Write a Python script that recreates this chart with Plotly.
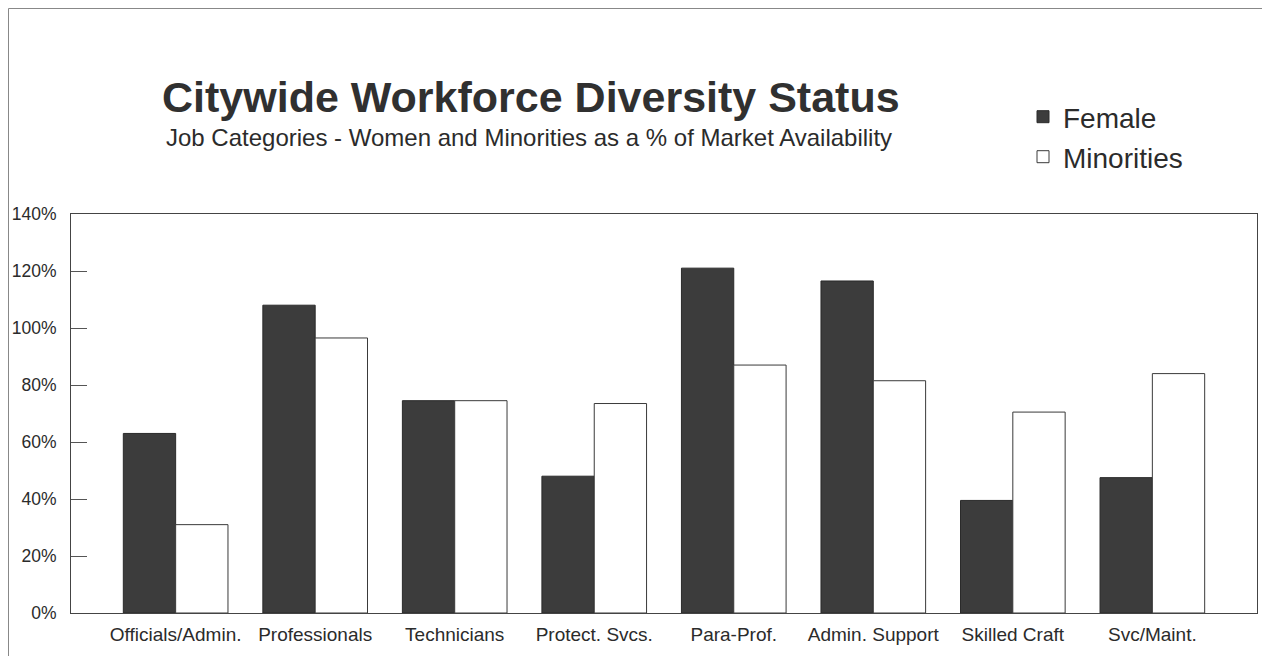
import plotly.graph_objects as go

categories = ["Officials/Admin.", "Professionals", "Technicians", "Protect. Svcs.",
              "Para-Prof.", "Admin. Support", "Skilled Craft", "Svc/Maint."]
female = [63, 108, 74.5, 48, 121, 116.5, 39.5, 47.5]
minorities = [31, 96.5, 74.5, 73.5, 87, 81.5, 70.5, 84]
y_ticks = [0, 20, 40, 60, 80, 100, 120, 140]
y_labels = ["0%", "20%", "40%", "60%", "80%", "100%", "120%", "140%"]

FONT = "Liberation Sans, Arial, sans-serif"
TXT = "#2b2b2b"

# page has an 8px body margin; work in page coordinates and convert
OFF = 8
W, H = 1254, 648
plot_left, plot_right, plot_top, plot_bottom = 71, 1257, 214, 613
L = plot_left - OFF
R = W - (plot_right - OFF)
T = plot_top - OFF
B = H - (plot_bottom - OFF)
pw = W - L - R
ph = H - T - B


def px(xpage):
    return (xpage - OFF - L) / pw


def py(ypage):
    return (H - B - (ypage - OFF)) / ph


fig = go.Figure()
fig.add_trace(go.Bar(
    x=categories, y=female, name="Female",
    marker=dict(color="#3c3c3c", line=dict(color="#2a2a2a", width=1)),
    legend="legend",
))
fig.add_trace(go.Bar(
    x=categories, y=minorities, name="Minorities",
    marker=dict(color="#ffffff", line=dict(color="#3a3a3a", width=1)),
    legend="legend2",
))

fig.update_layout(
    width=W, height=H,
    margin=dict(l=L, r=R, t=T, b=B, autoexpand=False),
    paper_bgcolor="white", plot_bgcolor="white",
    barmode="group", bargap=0.25, bargroupgap=0,
    showlegend=True,
    font=dict(family=FONT, color=TXT),
    legend=dict(x=px(1023), y=py(117), xanchor="left", yanchor="middle",
                font=dict(size=28, color=TXT, family=FONT), bgcolor="rgba(0,0,0,0)"),
    legend2=dict(x=px(1023), y=py(157), xanchor="left", yanchor="middle",
                 font=dict(size=28, color=TXT, family=FONT), bgcolor="rgba(0,0,0,0)"),
    xaxis=dict(
        range=[-0.75, 7.75], showgrid=False, showline=True, linecolor="#444",
        linewidth=1, mirror=True, ticks="", tickfont=dict(size=19, color=TXT),
        ticklabelstandoff=4,
    ),
    yaxis=dict(
        range=[0, 140], tickvals=y_ticks, ticktext=y_labels, showgrid=False,
        showline=True, linecolor="#444", linewidth=1, mirror=True,
        ticks="inside", ticklen=16, tickcolor="#555", tickwidth=1,
        tickfont=dict(size=17.5, color=TXT), zeroline=False, ticklabelstandoff=10,
    ),
    annotations=[
        dict(text="<b>Citywide Workforce Diversity Status</b>", x=px(531), y=py(97),
             xref="paper", yref="paper", showarrow=False, xanchor="center", yanchor="middle",
             font=dict(size=43, color="#303030", family=FONT)),
        dict(text="Job Categories - Women and Minorities as a % of Market Availability",
             x=px(529), y=py(137), xref="paper", yref="paper", showarrow=False,
             xanchor="center", yanchor="middle", font=dict(size=24, color=TXT, family=FONT)),
    ],
    shapes=[
        dict(type="line", xref="paper", yref="paper", x0=px(8.5), x1=px(1275), y0=py(8.5), y1=py(8.5),
             line=dict(color="#888", width=1)),
        dict(type="line", xref="paper", yref="paper", x0=px(8.5), x1=px(8.5), y0=py(8.5), y1=py(670),
             line=dict(color="#888", width=1)),
    ],
)

fig.write_html("out.html")
